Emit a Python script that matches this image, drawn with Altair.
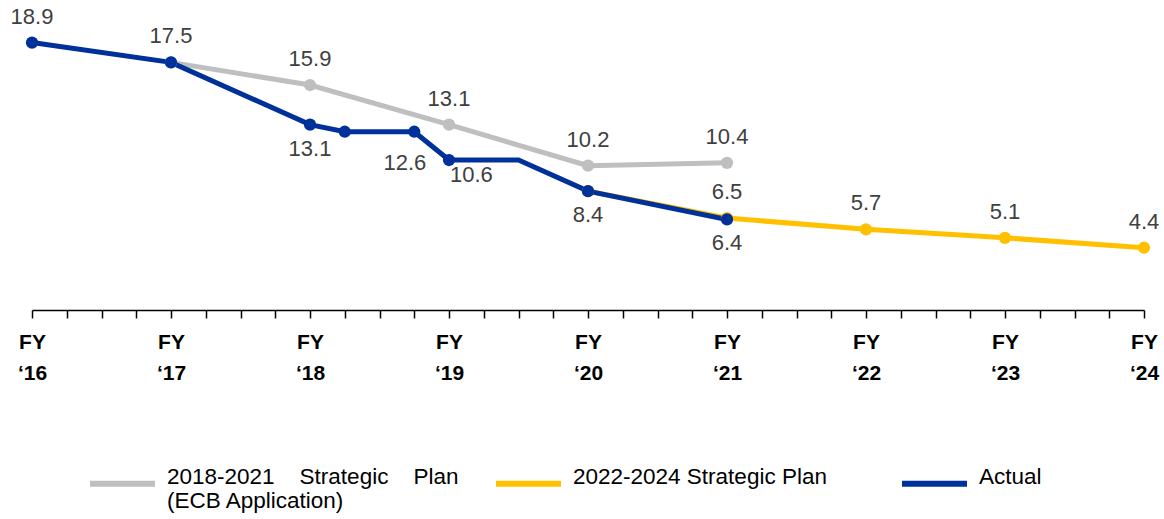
import altair as alt
import pandas as pd

NB = "\u00a0"

# ---- data ----
series_names = ["2018-2021 Strategic Plan", "2022-2024 Strategic Plan", "Actual"]
series_colors = ["#BFBFBF", "#FFC000", "#00309A"]
legend_lines = {
    "2018-2021 Strategic Plan": ["2018-2021" + NB * 4 + "Strategic" + NB * 4 + "Plan", "(ECB Application)"],
    "2022-2024 Strategic Plan": ["2022-2024 Strategic Plan", ""],
    "Actual": ["Actual", ""],
}

plan1_years = [2017, 2018, 2019, 2020, 2021]
plan1_values = [17.5, 15.9, 13.1, 10.2, 10.4]

plan2_years = [2020, 2021, 2022, 2023, 2024]
plan2_values = [8.4, 6.5, 5.7, 5.1, 4.4]

actual_years = [2016, 2017, 2018, 2018.25, 2018.75, 2019, 2019.5, 2020, 2021]
actual_values = [18.9, 17.5, 13.1, 12.6, 12.6, 10.6, 10.6, 8.4, 6.4]
actual_marker_years = [2016, 2017, 2018, 2018.25, 2018.75, 2019, 2020, 2021]

# label placement (Excel-style: above / below / below-left / below-right)
plan1_label_years = [2017, 2018, 2019, 2020, 2021]
plan2_label_years = [2021, 2022, 2023, 2024]
actual_label_above_years = [2016]
actual_label_below_years = [2018, 2020, 2021]
actual_label_below_left_years = [2018.75]
actual_label_below_right_years = [2019]

fiscal_years = [2016, 2017, 2018, 2019, 2020, 2021, 2022, 2023, 2024]
year_labels = ["‘16", "‘17", "‘18", "‘19", "‘20", "‘21", "‘22", "‘23", "‘24"]

FONT = "Liberation Sans"

# ---- build table ----
rows = []
for y, v in zip(plan1_years, plan1_values):
    rows.append({"series": series_names[0], "year": y, "value": v,
                 "marker": True, "label": "above" if y in plan1_label_years else ""})
for y, v in zip(plan2_years, plan2_values):
    rows.append({"series": series_names[1], "year": y, "value": v,
                 "marker": True, "label": "above" if y in plan2_label_years else ""})
for y, v in zip(actual_years, actual_values):
    if y in actual_label_above_years:
        lab = "above"
    elif y in actual_label_below_years:
        lab = "below"
    elif y in actual_label_below_left_years:
        lab = "below-left"
    elif y in actual_label_below_right_years:
        lab = "below-right"
    else:
        lab = ""
    rows.append({"series": series_names[2], "year": y, "value": v,
                 "marker": y in actual_marker_years, "label": lab})
df = pd.DataFrame(rows)
df["text"] = df["value"].map(lambda v: f"{v:.1f}")

tick_values = [fiscal_years[0] + i * 0.25 for i in range(int((fiscal_years[-1] - fiscal_years[0]) * 4) + 1)]
label_map = {str(y): l for y, l in zip(fiscal_years, year_labels)}
label_expr = ("datum.value % 1 === 0 ? ['FY', " +
              "{" + ",".join(f"'{k}': '{v}'" for k, v in label_map.items()) + "}[toString(datum.value)]] : ''")

x_enc = alt.X("year:Q",
              scale=alt.Scale(domain=[fiscal_years[0], fiscal_years[-1]], nice=False, zero=False),
              axis=alt.Axis(values=tick_values, labelExpr=label_expr, title=None, grid=False,
                            domainColor="#000000", domainWidth=1.5,
                            tickColor="#000000", tickWidth=1.5, tickSize=8,
                            labelFont=FONT, labelFontWeight="bold",
                            labelFontSize=21, labelColor="#000000", labelPadding=13,
                            labelLineHeight=31, labelOverlap=False, labelFlush=False,
                            labelBound=False))
y_enc = alt.Y("value:Q", scale=alt.Scale(domain=[0, 20], nice=False), axis=None)

legend_label_expr = ("{" + ",".join(
    f"'{k}': [" + ",".join(f"'{s}'" for s in v) + "]" for k, v in legend_lines.items()
) + "}[datum.label]")

color_enc = alt.Color("series:N",
                      scale=alt.Scale(domain=series_names, range=series_colors),
                      legend=alt.Legend(orient="none", legendX=55, legendY=421,
                                        direction="horizontal", columns=3,
                                        title=None, symbolType="stroke",
                                        symbolSize=4225, symbolStrokeWidth=6,
                                        labelFont=FONT, labelFontSize=22.5,
                                        labelBaseline="alphabetic",
                                        labelColor="#000000", labelLimit=500,
                                        labelOffset=9, columnPadding=25,
                                        gridAlign="all", labelExpr=legend_label_expr))

base = alt.Chart(df)

lines = []
points = []
for name in series_names:
    sub = base.transform_filter(alt.datum.series == name)
    lines.append(sub.mark_line(strokeWidth=5).encode(x=x_enc, y=y_enc, color=color_enc))
    points.append(sub.transform_filter(alt.datum.marker == True)
                  .mark_circle(size=150, opacity=1).encode(x=x_enc, y=y_enc, color=color_enc))

text_style = dict(font=FONT, fontSize=22, color="#404040")


def label_layer(kind, **kw):
    return base.transform_filter(alt.datum.label == kind).mark_text(**text_style, **kw).encode(
        x=x_enc, y=y_enc, text="text:N")


labels = [
    label_layer("above", dy=-26),
    label_layer("below", dy=24),
    label_layer("below-left", dy=31, dx=12, align="right"),
    label_layer("below-right", dy=15, dx=1, align="left"),
]

chart = alt.layer(*lines, *points, *labels).properties(
    width=1112, height=283,
    autosize=alt.AutoSizeParams(type="none"),
    padding={"left": 32, "top": 27, "right": 20, "bottom": 209},
    background="white",
).configure_view(stroke=None)

chart.save("out.html", embed_options={"renderer": "svg", "actions": False})
